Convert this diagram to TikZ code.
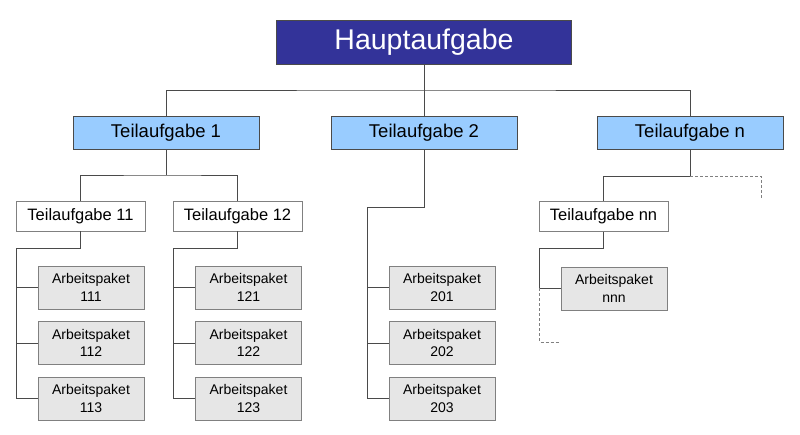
\documentclass[tikz,border=0pt]{standalone}
\usepackage{fontspec}
\setmainfont{Liberation Sans}
\usetikzlibrary{positioning}

\definecolor{hauptblau}{HTML}{333399}
\definecolor{teilblau}{HTML}{99CCFF}
\definecolor{paketgrau}{HTML}{E6E6E6}
\definecolor{liniengrau}{HTML}{4A4A4A}

\begin{document}
\begin{tikzpicture}[x=1pt, y=-1pt, node distance=55.5pt]

% Define styles
\tikzstyle{haupt} = [rectangle, draw=liniengrau, fill=hauptblau, text=white, minimum width=295pt, minimum height=44pt, inner sep=0pt, font=\fontsize{28.5}{32}\selectfont]
\tikzstyle{teil} = [rectangle, draw=liniengrau, fill=teilblau, minimum width=186pt, minimum height=33pt, inner sep=0pt, font=\fontsize{18.5}{22}\selectfont]
\tikzstyle{unterteil} = [rectangle, draw=gray, fill=white, minimum width=129pt, minimum height=30pt, inner sep=0pt, font=\fontsize{16.5}{20}\selectfont]
\tikzstyle{paket} = [rectangle, draw=gray, fill=paketgrau, minimum width=106pt, minimum height=43pt, inner sep=0pt, align=center, font=\fontsize{14}{17.7}\selectfont]
\tikzstyle{line} = [liniengrau, line width=0.8pt]
\tikzstyle{dashline} = [gray, line width=0.8pt, dash pattern=on 3pt off 2pt]

\useasboundingbox (0,0) rectangle (800,435);

% Nodes
\node [haupt] (haupt) at (424,42) {Hauptaufgabe};
\node [teil] (t1) at (166,132.5) {Teilaufgabe 1};
\node [teil] (t2) at (424,132.5) {Teilaufgabe 2};
\node [teil] (tn) at (690,133) {Teilaufgabe n};

\node [unterteil] (t11) at (80.5,216) {Teilaufgabe 11};
\node [unterteil] (t12) at (237.5,216) {Teilaufgabe 12};
\node [unterteil] (tnn) at (603.5,216.5) {Teilaufgabe nn};

% Arbeitspakete
\node [paket] (ap111) at (91,287.5) {Arbeitspaket\\111};
\node [paket, below of=ap111] (ap112) {Arbeitspaket\\112};
\node [paket, below of=ap112] (ap113) {Arbeitspaket\\113};

\node [paket] (ap121) at (248.5,287.5) {Arbeitspaket\\121};
\node [paket, below of=ap121] (ap122) {Arbeitspaket\\122};
\node [paket, below of=ap122] (ap123) {Arbeitspaket\\123};

\node [paket] (ap201) at (442,287.5) {Arbeitspaket\\201};
\node [paket, below of=ap201] (ap202) {Arbeitspaket\\202};
\node [paket, below of=ap202] (ap203) {Arbeitspaket\\203};

\node [paket] (apnnn) at (614,288.5) {Arbeitspaket\\nnn};

% Junctions
\coordinate (bus) at (424,90);
\coordinate (b1) at (166,175);
\coordinate (bn) at (690,176);
\coordinate (s11) at (16,248);
\coordinate (s12) at (173,248);
\coordinate (s2) at (367,207);
\coordinate (snn) at (539,248);
\coordinate (moren) at (761,199);
\coordinate (morenn) at (560,342);

% Lines
\draw [line] (haupt) -- (t2);
\draw [line] (t1.north) |- (bus) -| (tn.north);

\draw [line] (t1) -- (b1);
\draw [line] (t11.north) |- (b1) -| (t12.north);

\draw [line] (t11.south) |- (s11) |- (ap113.west);
\draw [line] (s11 |- ap111.west) -- (ap111.west);
\draw [line] (s11 |- ap112.west) -- (ap112.west);

\draw [line] (t12.south) |- (s12) |- (ap123.west);
\draw [line] (s12 |- ap121.west) -- (ap121.west);
\draw [line] (s12 |- ap122.west) -- (ap122.west);

\draw [line] (t2.south) |- (s2) |- (ap203.west);
\draw [line] (s2 |- ap201.west) -- (ap201.west);
\draw [line] (s2 |- ap202.west) -- (ap202.west);

\draw [line] (tn) -- (bn) -| (tnn.north);
\draw [dashline] (bn) -| (moren);

\draw [line] (tnn.south) |- (snn) |- (apnnn.west);
\draw [dashline] (snn |- apnnn.west) |- (morenn);

\end{tikzpicture}
\end{document}
